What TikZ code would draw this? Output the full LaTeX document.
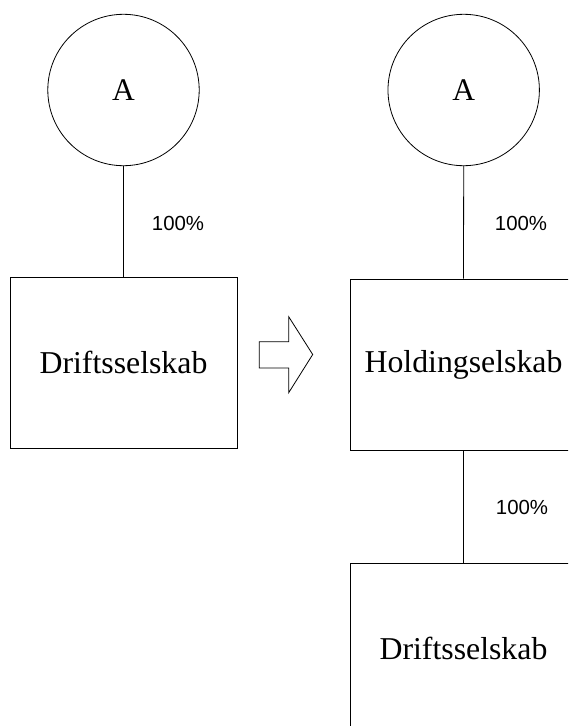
\documentclass[tikz,border=0pt]{standalone}
\usepackage{fontspec}
\setmainfont{Liberation Serif}
\newfontfamily\arialfont{Liberation Sans}
\begin{document}
\begin{tikzpicture}[x=1pt,y=-1pt,
  owner/.style={draw=black,line width=0.8pt,circle,minimum size=151.4pt,inner sep=0pt,font=\fontsize{31.5}{36}\selectfont},
  company/.style={draw=black,line width=0.8pt,rectangle,minimum width=227pt,minimum height=171pt,inner sep=0pt,font=\fontsize{31.8}{36}\selectfont},
  pct/.style={font=\arialfont\fontsize{20.4}{24}\selectfont,inner sep=0pt},
  link/.style={draw=black,line width=0.8pt}]
\useasboundingbox (0,0) rectangle (568,726);
\clip (0,0) rectangle (568,726);
% left side
\node[owner] (A1) at (123.5,90) {A};
\node[company] (D1) at (123.5,362.5) {Driftsselskab};
\draw[link] (A1.south) -- (D1.north);
\node[pct] (p1) at (178,223) {100\%};
% transformation arrow
\draw[line width=0.8pt] (259.3,341.7) -- (288.7,341.7) -- (288.7,316.7) -- (312.7,354.5)
  -- (288.7,392.7) -- (288.7,368) -- (259.3,368) -- cycle;
% right side
\node[owner] (A2) at (463.7,90) {A};
\node[company] (H2) at (463.5,364.5) {Holdingselskab};
\node[company] (D2) at (463.5,648.5) {Driftsselskab};
\draw[link] (A2.south) -- (H2.north);
\draw[link] (H2.south) -- (D2.north);
\node[pct] (p2) at (521,223) {100\%};
\node[pct] (p3) at (522,507) {100\%};
\end{tikzpicture}
\end{document}
